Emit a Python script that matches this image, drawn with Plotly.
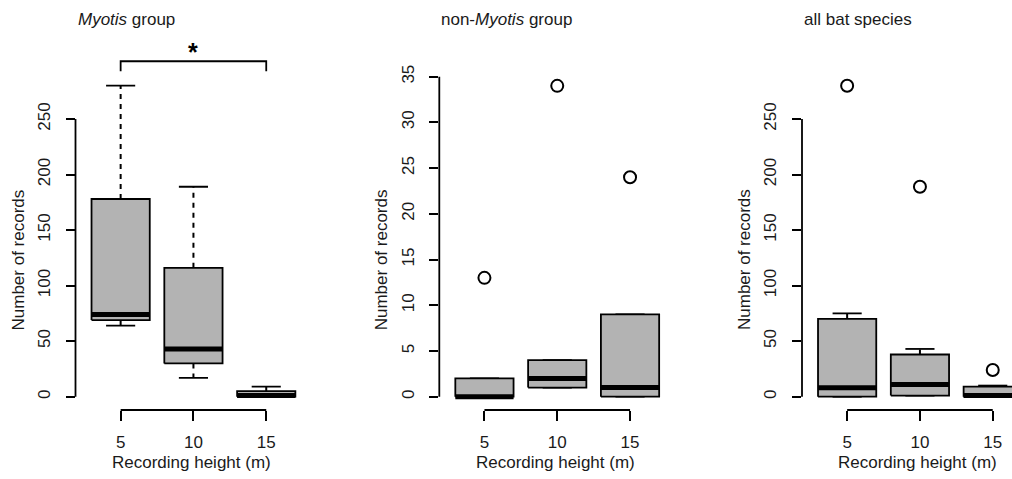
import plotly.graph_objects as go

# ---------------- data ----------------
heights = ["5", "10", "15"]
positions = [1, 2, 3]

panel_titles = ["<i>Myotis</i> group", "non-<i>Myotis</i> group", "all bat species"]

myotis_q1 = [69, 30, 0]
myotis_med = [74, 43, 1]
myotis_q3 = [178, 116, 5]
myotis_lo = [64, 17, 0]
myotis_hi = [280, 189, 9]
myotis_out = [[], [], []]

nonmyotis_q1 = [0, 1, 0]
nonmyotis_med = [0, 2, 1]
nonmyotis_q3 = [2, 4, 9]
nonmyotis_lo = [0, 1, 0]
nonmyotis_hi = [2, 4, 9]
nonmyotis_out = [[13], [34], [24]]

all_q1 = [0, 1, 0]
all_med = [8, 11, 1]
all_q3 = [70, 38, 9]
all_lo = [0, 1, 0]
all_hi = [75, 43, 10]
all_out = [[280], [189], [24]]

yticks_big = [0, 50, 100, 150, 200, 250]
yticks_small = [0, 5, 10, 15, 20, 25, 30, 35]

sig_x = [1, 3]
sig_top = 302
sig_bottom = 293
sig_star_y = 310
sig_label = "*"

# ---------------- layout constants ----------------
W, H = 1012, 479
PX_BOTTOM, PX_TOP = 410, 28
Y0PX = 396.7
XSCALE = 72.8
X_LO = 0.38
FONT = "Liberation Sans, Arial, sans-serif"
TXT = "#1a1a1a"
FILL = "#b3b3b3"
LW = 1.8

panels = [
    dict(q1=myotis_q1, med=myotis_med, q3=myotis_q3, lo=myotis_lo, hi=myotis_hi,
         out=myotis_out, yt=yticks_big, left=75.5, yscale=277.7 / 250),
    dict(q1=nonmyotis_q1, med=nonmyotis_med, q3=nonmyotis_q3, lo=nonmyotis_lo, hi=nonmyotis_hi,
         out=nonmyotis_out, yt=yticks_small, left=439.3, yscale=320 / 35),
    dict(q1=all_q1, med=all_med, q3=all_q3, lo=all_lo, hi=all_hi,
         out=all_out, yt=yticks_big, left=802, yscale=277.7 / 250),
]

fig = go.Figure()
shapes = []
annotations = []

ydom = [(H - PX_BOTTOM) / H, (H - PX_TOP) / H]
half = 0.4
cap = 0.2

for i, p in enumerate(panels):
    n = "" if i == 0 else str(i + 1)
    xa, ya = "x" + n, "y" + n
    left = p["left"]
    right = min(W, left + 3.24 * XSCALE)
    x_hi = X_LO + (right - left) / XSCALE
    s = p["yscale"]
    y_lo = -(PX_BOTTOM - Y0PX) / s
    y_hi = (Y0PX - PX_TOP) / s

    for k, x in enumerate(positions):
        q1, md, q3, lo, hi = p["q1"][k], p["med"][k], p["q3"][k], p["lo"][k], p["hi"][k]
        # whiskers (dashed)
        fig.add_trace(go.Scatter(x=[x, x, None, x, x], y=[q3, hi, None, q1, lo], mode="lines",
                                 line=dict(color="black", width=2, dash="5px,5px"),
                                 xaxis=xa, yaxis=ya, hoverinfo="skip", showlegend=False))
        # staples
        fig.add_trace(go.Scatter(x=[x - cap, x + cap, None, x - cap, x + cap],
                                 y=[hi, hi, None, lo, lo], mode="lines",
                                 line=dict(color="black", width=LW),
                                 xaxis=xa, yaxis=ya, hoverinfo="skip", showlegend=False))
        # box
        fig.add_trace(go.Scatter(x=[x - half, x + half, x + half, x - half, x - half],
                                 y=[q1, q1, q3, q3, q1], mode="lines", fill="toself",
                                 fillcolor=FILL, line=dict(color="black", width=LW),
                                 xaxis=xa, yaxis=ya, hoverinfo="skip", showlegend=False))
        # median
        fig.add_trace(go.Scatter(x=[x - half, x + half], y=[md, md], mode="lines",
                                 line=dict(color="black", width=5),
                                 xaxis=xa, yaxis=ya, hoverinfo="skip", showlegend=False))
        # outliers
        if p["out"][k]:
            fig.add_trace(go.Scatter(x=[x] * len(p["out"][k]), y=p["out"][k], mode="markers",
                                     marker=dict(symbol="circle-open", size=12, color="black",
                                                 line=dict(width=2, color="black")),
                                     xaxis=xa, yaxis=ya, hoverinfo="skip", showlegend=False))

    xdom = [left / W, right / W]
    fig.update_layout(**{
        "xaxis" + n: dict(domain=xdom, range=[X_LO, x_hi], anchor=ya, showgrid=False,
                          zeroline=False, showline=False, ticks="outside", ticklen=10,
                          tickwidth=LW, tickcolor="black", tickvals=positions,
                          ticktext=heights, ticklabelstandoff=7,
                          tickfont=dict(size=17, color=TXT, family=FONT)),
        "yaxis" + n: dict(domain=ydom, range=[y_lo, y_hi], anchor=xa, showgrid=False,
                          zeroline=False, showline=False, ticks="outside", ticklen=9,
                          tickwidth=LW, tickcolor="black", tickvals=p["yt"], tickangle=-90,
                          ticklabelstandoff=9,
                          tickfont=dict(size=17, color=TXT, family=FONT)),
    })
    # R-style axis lines spanning first to last tick
    shapes.append(dict(type="line", xref=xa, yref=ya + " domain", x0=positions[0],
                       x1=positions[-1], y0=0, y1=0, line=dict(color="black", width=LW)))
    shapes.append(dict(type="line", xref=xa + " domain", yref=ya, x0=0, x1=0,
                       y0=p["yt"][0], y1=p["yt"][-1], line=dict(color="black", width=LW)))

    # titles
    annotations.append(dict(text=panel_titles[i], xref=xa + " domain", x=0, xanchor="left",
                            yref="paper", y=(H - 19) / H, yanchor="middle", showarrow=False,
                            font=dict(size=17, color=TXT, family=FONT)))
    annotations.append(dict(text="Number of records", xref="paper", x=(left - 58) / W,
                            xanchor="center", yref="paper", y=(H - 260) / H, yanchor="middle",
                            textangle=-90, showarrow=False,
                            font=dict(size=17, color=TXT, family=FONT)))
    cx = (left + left + 3.24 * XSCALE) / 2 - 2
    annotations.append(dict(text="Recording height (m)", xref="paper", x=cx / W,
                            xanchor="center", yref="paper", y=(H - 462) / H, yanchor="middle",
                            showarrow=False, font=dict(size=17, color=TXT, family=FONT)))

# significance bracket in first panel
fig.add_trace(go.Scatter(x=[sig_x[0], sig_x[0], sig_x[1], sig_x[1]],
                         y=[sig_bottom, sig_top, sig_top, sig_bottom], mode="lines",
                         line=dict(color="black", width=LW), xaxis="x", yaxis="y",
                         hoverinfo="skip", showlegend=False))
annotations.append(dict(text="<b>" + sig_label + "</b>", xref="x", x=(sig_x[0] + sig_x[1]) / 2,
                        yref="y", y=sig_star_y, yanchor="middle", showarrow=False,
                        font=dict(size=25, color="black", family=FONT)))

fig.update_layout(width=W, height=H, margin=dict(l=0, r=0, t=0, b=0),
                  paper_bgcolor="white", plot_bgcolor="white", showlegend=False,
                  shapes=shapes, annotations=annotations)

fig.write_html("out.html", config={"displayModeBar": False},
               post_script="document.body.style.margin='0';document.body.style.overflow='hidden';")
